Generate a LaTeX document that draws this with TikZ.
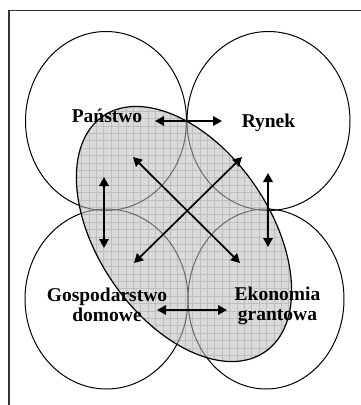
\documentclass[tikz,border=0pt]{standalone}
\usepackage{fontspec}
\setmainfont{Liberation Serif}
\usetikzlibrary{arrows.meta}

\tikzset{
  sphere/.style={draw=black, line width=1pt},
  twoway/.style={line width=1.7pt, {Triangle[length=9pt,width=9.5pt]}-{Triangle[length=9pt,width=9.5pt]}},
  sectorname/.style={font=\fontsize{19.5}{20}\selectfont\bfseries, inner sep=0pt, align=center}
}

\begin{document}
\begin{tikzpicture}[x=1pt,y=1pt,yscale=-1]
\useasboundingbox (0,0) rectangle (361,405);

%Frame
\draw [line width=1.3pt, black!80] (9,405) -- (9,10.5) -- (361,10.5) ;

%Shape: Circles
\draw [sphere] (106,121) ellipse [x radius=80.5, y radius=89.5] ;
\draw [sphere] (268.5,121) ellipse [x radius=81.5, y radius=89.5] ;
\draw [sphere] (106.5,299) ellipse [x radius=81.5, y radius=90] ;
\draw [sphere] (266,299) ellipse [x radius=78, y radius=90] ;

%Shape: Ellipse
\fill [black!25, fill opacity=0.58, rotate around={55.5:(184,234)}] (184,234) ellipse [x radius=143, y radius=86] ;
\begin{scope}
\clip [rotate around={55.5:(184,234)}] (184,234) ellipse [x radius=143, y radius=86] ;
\draw [black, opacity=0.13, line width=0.5pt, step=7.4] (30,90) grid (340,380) ;
\end{scope}
\draw [line width=1.2pt, rotate around={55.5:(184,234)}] (184,234) ellipse [x radius=143, y radius=86] ;

% Text Node
\node [sectorname, anchor=base] (panstwo) at (107,122) {Państwo};
\node [sectorname, anchor=base] (rynek) at (268.5,127) {Rynek};
\node [sectorname, anchor=base] (gosp) at (107,321.5) {Gospodarstwo\\domowe};
\node [sectorname, anchor=base] (ekon) at (277.5,320.5) {Ekonomia\\grantowa};

%Arrow ends
\coordinate (pr-a) at (155,121);
\coordinate (pr-b) at (222,121);
\coordinate (ge-a) at (157,310);
\coordinate (ge-b) at (227,310);
\coordinate (pg-a) at (104,177);
\coordinate (pg-b) at (104,248);
\coordinate (re-a) at (268,173);
\coordinate (re-b) at (268,247);
\coordinate (pe-a) at (133,157);
\coordinate (pe-b) at (240,263);
\coordinate (rg-a) at (242,157);
\coordinate (rg-b) at (134,263);

\draw [twoway] (pr-a) -- (pr-b) ;
\draw [twoway] (ge-a) -- (ge-b) ;
\draw [twoway] (pg-a) -- (pg-b) ;
\draw [twoway] (re-a) -- (re-b) ;
\draw [twoway] (pe-a) -- (pe-b) ;
\draw [twoway] (rg-a) -- (rg-b) ;

\end{tikzpicture}
\end{document}
